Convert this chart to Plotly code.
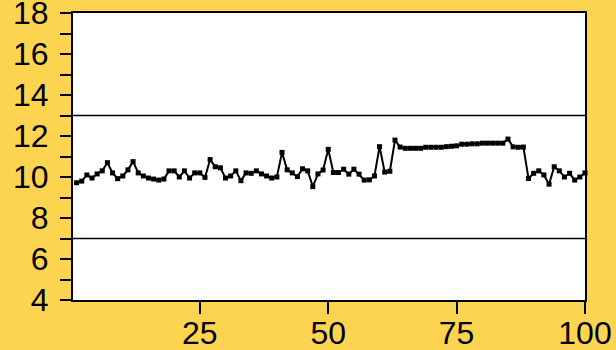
import plotly.graph_objects as go

x_vals = list(range(1, 101))
y_vals = [
    9.72, 9.80, 10.10, 9.95, 10.15, 10.30, 10.70, 10.20, 9.92, 10.05,
    10.35, 10.75, 10.20, 10.05, 9.95, 9.90, 9.85, 9.90, 10.30, 10.30,
    10.00, 10.30, 9.95, 10.20, 10.20, 9.98, 10.85, 10.50, 10.45, 9.95,
    10.05, 10.30, 9.82, 10.20, 10.18, 10.30, 10.15, 10.05, 9.95, 10.00,
    11.20, 10.35, 10.20, 10.02, 10.40, 10.30, 9.53, 10.15, 10.34, 11.35,
    10.22, 10.22, 10.38, 10.14, 10.38, 10.14, 9.85, 9.86, 10.05, 11.48,
    10.24, 10.28, 11.80, 11.46, 11.40, 11.40, 11.40, 11.40, 11.45, 11.45,
    11.45, 11.45, 11.48, 11.50, 11.52, 11.60, 11.60, 11.62, 11.62, 11.65,
    11.65, 11.65, 11.65, 11.65, 11.85, 11.47, 11.45, 11.46, 9.93, 10.18,
    10.30, 10.10, 9.65, 10.50, 10.30, 10.00, 10.18, 9.85, 10.00, 10.20,
]
limits = [13, 7]
x_ticks = [25, 50, 75, 100]
y_ticks = list(range(4, 19))
y_ticktext = [str(v) if v % 2 == 0 else "" for v in y_ticks]

fig = go.Figure()
fig.add_trace(go.Scatter(
    x=x_vals, y=y_vals, mode="lines+markers",
    line=dict(color="black", width=2),
    marker=dict(symbol="square", size=5, color="black"),
    cliponaxis=False, showlegend=False,
))
for lim in limits:
    fig.add_shape(type="line", xref="paper", x0=0, x1=1, yref="y", y0=lim, y1=lim,
                  line=dict(color="black", width=1.5))

font = dict(family="Liberation Sans, Arial, sans-serif", size=32, color="black")
fig.update_layout(
    width=616, height=350,
    margin=dict(l=73, r=31, t=13, b=50, autoexpand=False),
    paper_bgcolor="#FDD44F", plot_bgcolor="white",
    font=font,
    xaxis=dict(range=[0.3, 100], tickvals=x_ticks, ticks="outside", ticklen=12,
               tickwidth=2, tickcolor="black", showline=True, linecolor="black",
               linewidth=2, mirror=True, showgrid=False, zeroline=False,
               ticklabelstandoff=-8, automargin=False, ticklabeloverflow="allow"),
    yaxis=dict(range=[4, 18], tickvals=y_ticks, ticktext=y_ticktext, ticks="outside",
               ticklen=11, tickwidth=2, tickcolor="black", showline=True,
               linecolor="black", linewidth=2, mirror=True, showgrid=False,
               zeroline=False, ticklabelstandoff=5, automargin=False,
               ticklabeloverflow="allow"),
)
fig.write_html("out.html", config={"displayModeBar": False},
               post_script="document.body.style.margin='0';")
